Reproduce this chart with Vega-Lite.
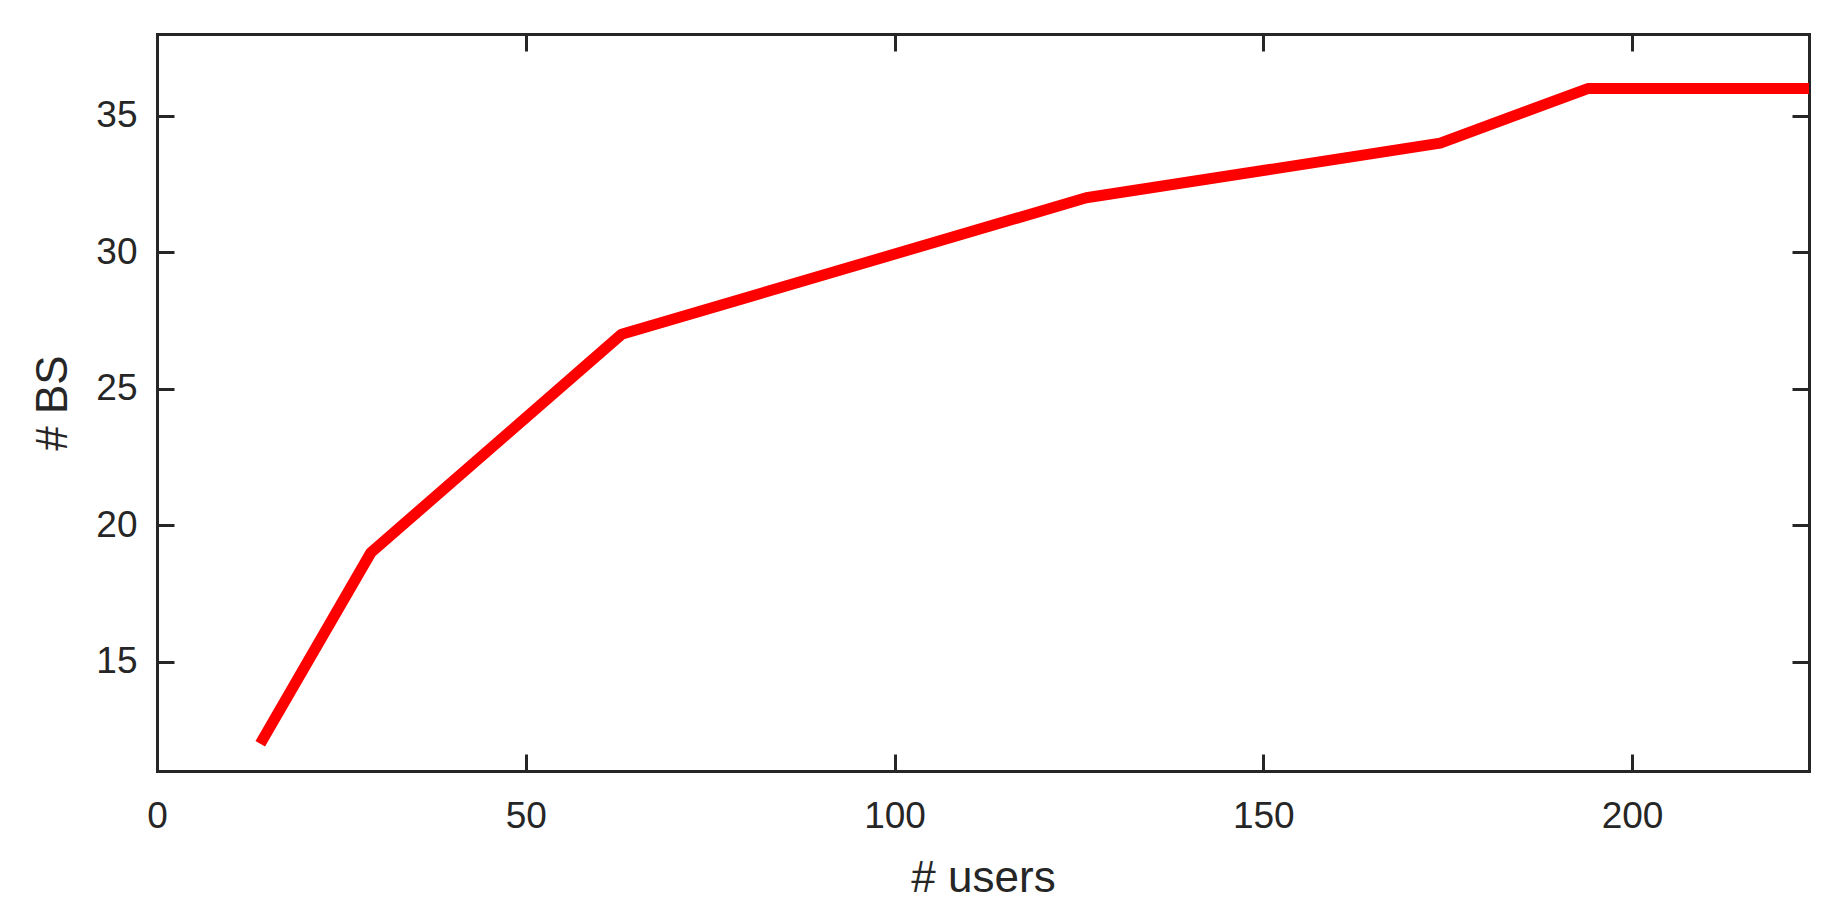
{
  "$schema": "https://vega.github.io/schema/vega-lite/v6.json",
  "width": 1652,
  "height": 737,
  "autosize": {"type": "none"},
  "padding": {"left": 157, "top": 34, "right": 31, "bottom": 148},
  "background": "white",
  "config": {
    "view": {"stroke": null},
    "axis": {
      "domainColor": "#262626",
      "domainWidth": 3,
      "domainCap": "square",
      "tickColor": "#262626",
      "tickWidth": 3,
      "tickSize": -17,
      "grid": false,
      "labelFlush": false,
      "labelOverlap": false,
      "labelFont": "Liberation Sans",
      "labelFontSize": 37,
      "labelColor": "#262626",
      "titleFont": "Liberation Sans",
      "titleFontSize": 44,
      "titleFontWeight": "normal",
      "titleColor": "#262626"
    }
  },
  "data": {
    "values": [
      {"users": 14, "bs": 12},
      {"users": 29, "bs": 19},
      {"users": 63, "bs": 27},
      {"users": 126, "bs": 32},
      {"users": 174, "bs": 34},
      {"users": 194, "bs": 36},
      {"users": 224, "bs": 36}
    ]
  },
  "layer": [
    {
      "mark": {"type": "line", "opacity": 0},
      "encoding": {
        "x": {"field": "users", "type": "quantitative", "scale": {"domain": [0, 224], "nice": false, "zero": false},
          "axis": {"orient": "top", "values": [0, 50, 100, 150, 200], "labels": false, "title": null}},
        "y": {"field": "bs", "type": "quantitative", "scale": {"domain": [11, 38], "nice": false, "zero": false},
          "axis": {"orient": "right", "values": [15, 20, 25, 30, 35], "labels": false, "title": null}}
      }
    },
    {
      "mark": {"type": "line", "color": "#ff0000", "strokeWidth": 11, "strokeCap": "butt", "strokeJoin": "round", "clip": true},
      "encoding": {
        "x": {"field": "users", "type": "quantitative", "scale": {"domain": [0, 224], "nice": false, "zero": false},
          "axis": {"orient": "bottom", "values": [0, 50, 100, 150, 200], "title": "# users", "labelPadding": 44, "titlePadding": 22}},
        "y": {"field": "bs", "type": "quantitative", "scale": {"domain": [11, 38], "nice": false, "zero": false},
          "axis": {"orient": "left", "values": [15, 20, 25, 30, 35], "title": "# BS", "labelPadding": 37, "titlePadding": 20}}
      }
    }
  ],
  "resolve": {"axis": {"x": "independent", "y": "independent"}}
}
